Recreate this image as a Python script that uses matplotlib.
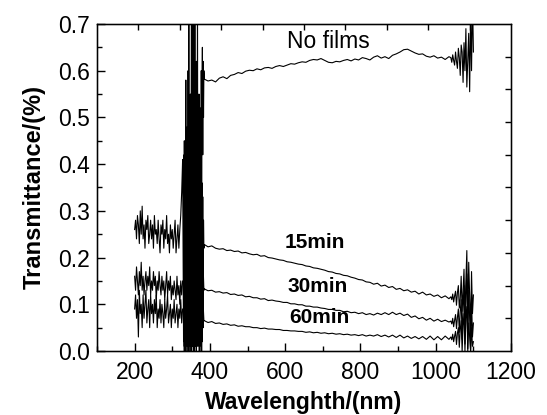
import numpy as np
import matplotlib
matplotlib.use("Agg")
import matplotlib.pyplot as plt

plt.rcParams['font.family'] = ['Liberation Sans', 'DejaVu Sans']

# wavelength grids (nm)
wl_uv = np.arange(200, 330, 2.5)      # 200..327.5
wl_gap = np.arange(330, 385, 1)       # 330..384, dense noisy band
wl_gap2 = np.arange(330, 385, 2)      # 330..384
wl_vis = np.arange(385, 1045, 10)     # 385..1035
wl_nir = np.arange(1040, 1101, 2.5)   # 1040..1100

# No films
nofilm_gap = [0.30, 0.05, 0.45, 0.02, 0.40, 0.10, 0.58, 0.03, 0.35, 0.12,
              0.48, 0.02, 0.60, 0.08, 0.75, 0.05, 0.38, 0.15, 0.55, 0.04,
              0.42, 0.78, 0.06, 0.36, 0.12, 0.80, 0.04, 0.30, 0.66, 0.10,
              0.75, 0.08, 0.40, 0.20, 0.62, 0.05, 0.35, 0.78, 0.12, 0.45,
              0.25, 0.55, 0.10, 0.48, 0.30, 0.52, 0.18, 0.60, 0.35, 0.55,
              0.65, 0.42, 0.62, 0.50, 0.60]
nofilm_vis = [0.582, 0.578, 0.580, 0.576, 0.584, 0.587, 0.583, 0.590, 0.592, 0.596,
              0.594, 0.599, 0.601, 0.600, 0.604, 0.602, 0.606, 0.607, 0.605, 0.609,
              0.611, 0.609, 0.612, 0.615, 0.614, 0.617, 0.619, 0.618, 0.622, 0.624,
              0.623, 0.626, 0.622, 0.618, 0.617, 0.620, 0.619, 0.622, 0.624, 0.621,
              0.625, 0.623, 0.628, 0.626, 0.623, 0.629, 0.632, 0.627, 0.630, 0.626,
              0.633, 0.636, 0.640, 0.645, 0.646, 0.642, 0.638, 0.635, 0.636, 0.631,
              0.629, 0.632, 0.627, 0.629, 0.624, 0.630]
nofilm_nir = [0.628, 0.618, 0.634, 0.622, 0.612, 0.640, 0.620, 0.605, 0.648, 0.628,
              0.590, 0.655, 0.640, 0.575, 0.660, 0.600, 0.690, 0.565, 0.620, 0.680,
              0.555, 0.720, 0.600, 0.760, 0.640]

# 15 min
m15_uv = [0.26, 0.28, 0.24, 0.29, 0.27, 0.23, 0.30, 0.25, 0.31, 0.24,
          0.27, 0.22, 0.28, 0.26, 0.29, 0.23, 0.25, 0.28, 0.24, 0.27,
          0.22, 0.29, 0.25, 0.26, 0.23, 0.28, 0.24, 0.21, 0.27, 0.25,
          0.28, 0.22, 0.26, 0.24, 0.29, 0.23, 0.25, 0.21, 0.27, 0.24,
          0.26, 0.22, 0.25, 0.28, 0.21, 0.24, 0.27, 0.22, 0.26, 0.29,
          0.34, 0.41]
m15_gap = [0.02, 0.42, 0.01, 0.40, 0.03, 0.43, 0.00, 0.38, 0.02, 0.41,
           0.01, 0.44, 0.02, 0.39, 0.00, 0.42, 0.03, 0.40, 0.01, 0.43,
           0.00, 0.41, 0.02, 0.44, 0.01, 0.38, 0.03, 0.42, 0.00, 0.40,
           0.02, 0.43, 0.01, 0.39, 0.00, 0.42, 0.02, 0.41, 0.01, 0.44,
           0.03, 0.40, 0.00, 0.42, 0.02, 0.38, 0.01, 0.41, 0.00, 0.36,
           0.02, 0.33, 0.05, 0.28, 0.22]
m15_vis = [0.228, 0.223, 0.225, 0.220, 0.218, 0.219, 0.215, 0.216, 0.213, 0.214,
           0.210, 0.211, 0.208, 0.206, 0.207, 0.203, 0.204, 0.200, 0.199, 0.197,
           0.195, 0.194, 0.191, 0.190, 0.188, 0.186, 0.185, 0.182, 0.181, 0.178,
           0.177, 0.175, 0.173, 0.170, 0.169, 0.166, 0.165, 0.162, 0.161, 0.158,
           0.156, 0.153, 0.152, 0.148, 0.147, 0.143, 0.145, 0.139, 0.141, 0.136,
           0.138, 0.132, 0.134, 0.129, 0.131, 0.126, 0.128, 0.122, 0.126, 0.120,
           0.122, 0.117, 0.120, 0.114, 0.118, 0.112]
m15_nir = [0.116, 0.110, 0.122, 0.105, 0.118, 0.128, 0.098, 0.125, 0.140, 0.092,
           0.112, 0.160, 0.085, 0.130, 0.175, 0.075, 0.150, 0.215, 0.060, 0.190,
           0.120, 0.045, 0.170, 0.080, 0.120]

# 30 min
m30_uv = [0.16, 0.13, 0.18, 0.15, 0.12, 0.17, 0.14, 0.19, 0.13, 0.16,
          0.12, 0.15, 0.17, 0.13, 0.16, 0.14, 0.18, 0.12, 0.15, 0.13,
          0.17, 0.14, 0.16, 0.11, 0.15, 0.13, 0.17, 0.14, 0.12, 0.16,
          0.13, 0.15, 0.11, 0.14, 0.17, 0.12, 0.15, 0.13, 0.16, 0.11,
          0.14, 0.12, 0.15, 0.13, 0.11, 0.16, 0.12, 0.14, 0.10, 0.15,
          0.12, 0.15]
m30_gap = [0.15, 0.01, 0.30, 0.02, 0.25, 0.00, 0.35, 0.03, 0.20, 0.01,
           0.28, 0.02, 0.32, 0.00, 0.22, 0.04, 0.30, 0.01, 0.26, 0.02,
           0.33, 0.00, 0.24, 0.03, 0.28, 0.05, 0.18, 0.13]
m30_vis = [0.133, 0.129, 0.130, 0.126, 0.127, 0.124, 0.125, 0.121, 0.122, 0.119,
           0.120, 0.116, 0.117, 0.114, 0.114, 0.111, 0.112, 0.108, 0.109, 0.107,
           0.106, 0.104, 0.104, 0.101, 0.101, 0.099, 0.099, 0.096, 0.096, 0.094,
           0.094, 0.092, 0.091, 0.089, 0.089, 0.087, 0.087, 0.084, 0.085, 0.082,
           0.083, 0.080, 0.082, 0.078, 0.080, 0.077, 0.081, 0.078, 0.082, 0.078,
           0.083, 0.078, 0.081, 0.076, 0.079, 0.072, 0.075, 0.069, 0.072, 0.066,
           0.070, 0.064, 0.068, 0.063, 0.066, 0.062]
m30_nir = [0.064, 0.058, 0.070, 0.052, 0.066, 0.078, 0.048, 0.072, 0.090, 0.040,
           0.085, 0.110, 0.025, 0.095, 0.140, 0.015, 0.120, 0.165, 0.005, 0.130,
           0.070, 0.000, 0.110, 0.030, 0.060]

# 60 min
m60_uv = [0.09, 0.12, 0.07, 0.11, 0.03, 0.13, 0.08, 0.10, 0.05, 0.12,
          0.07, 0.10, 0.13, 0.06, 0.09, 0.11, 0.05, 0.12, 0.08, 0.10,
          0.06, 0.11, 0.08, 0.12, 0.05, 0.09, 0.07, 0.11, 0.06, 0.10,
          0.08, 0.05, 0.11, 0.07, 0.09, 0.12, 0.06, 0.08, 0.10, 0.05,
          0.09, 0.07, 0.11, 0.06, 0.08, 0.10, 0.05, 0.09, 0.07, 0.11,
          0.06, 0.09]
m60_gap = [0.09, 0.00, 0.20, 0.02, 0.15, 0.01, 0.25, 0.00, 0.18, 0.03,
           0.22, 0.01, 0.12, 0.00, 0.24, 0.02, 0.16, 0.00, 0.21, 0.03,
           0.14, 0.01, 0.19, 0.00, 0.12, 0.04, 0.10, 0.065]
m60_vis = [0.065, 0.061, 0.063, 0.059, 0.060, 0.057, 0.058, 0.055, 0.056, 0.053,
           0.054, 0.052, 0.052, 0.050, 0.050, 0.048, 0.049, 0.047, 0.047, 0.046,
           0.046, 0.044, 0.044, 0.043, 0.043, 0.042, 0.042, 0.040, 0.041, 0.039,
           0.040, 0.038, 0.039, 0.037, 0.038, 0.036, 0.037, 0.035, 0.036, 0.034,
           0.035, 0.033, 0.035, 0.032, 0.034, 0.032, 0.035, 0.031, 0.034, 0.030,
           0.034, 0.029, 0.034, 0.028, 0.032, 0.027, 0.031, 0.026, 0.031, 0.025,
           0.032, 0.024, 0.031, 0.024, 0.032, 0.025]
m60_nir = [0.030, 0.024, 0.036, 0.020, 0.032, 0.042, 0.014, 0.038, 0.050, 0.008,
           0.046, 0.065, 0.000, 0.055, 0.080, 0.000, 0.070, 0.095, 0.000, 0.060,
           0.030, 0.000, 0.050, 0.010, 0.020]

curves = [
    (np.concatenate([wl_gap, wl_vis, wl_nir]), nofilm_gap + nofilm_vis + nofilm_nir),
    (np.concatenate([wl_uv, wl_gap, wl_vis, wl_nir]), m15_uv + m15_gap + m15_vis + m15_nir),
    (np.concatenate([wl_uv, wl_gap2, wl_vis, wl_nir]), m30_uv + m30_gap + m30_vis + m30_nir),
    (np.concatenate([wl_uv, wl_gap2, wl_vis, wl_nir]), m60_uv + m60_gap + m60_vis + m60_nir),
]

fig = plt.figure(figsize=(5.47, 4.15), dpi=100)
ax = fig.add_axes([0.1773, 0.1542, 0.757, 0.788])

for wl, val in curves:
    ax.plot(wl, val, color="black", lw=0.8)

ax.set_xlim(100, 1200)
ax.set_ylim(0, 0.7)
ax.set_xticks(np.arange(200, 1201, 200))
ax.set_xticks(np.arange(100, 1201, 100), minor=True)
ax.set_yticks(np.arange(0, 0.71, 0.1))
ax.set_yticks(np.arange(0, 0.71, 0.05), minor=True)
ax.set_yticklabels(["%.1f" % v for v in np.arange(0, 0.71, 0.1)])
ax.tick_params(which="both", direction="in", labelsize=16.5, width=1)
ax.tick_params(which="major", length=6)
ax.tick_params(which="minor", length=3.5)
ax.tick_params(axis="x", which="major", pad=7)
ax.tick_params(axis="y", which="major", pad=5)
for s in ax.spines.values():
    s.set_linewidth(1.0)

# top and right axes carry their own ticks (10 divisions, no labels)
ax_top = ax.twiny()
ax_top.set_xlim(0, 10)
ax_top.set_xticks(range(1, 10))
ax_top.tick_params(direction="in", length=4, width=1, labeltop=False)
ax_right = ax.twinx()
ax_right.set_ylim(0, 10)
ax_right.set_yticks(range(1, 10))
ax_right.tick_params(direction="in", length=4, width=1, labelright=False)

ax.set_xlabel("Wavelenghth/(nm)", fontsize=16.5, fontweight="bold", labelpad=5)
ax.set_ylabel("Transmittance/(%)", fontsize=17, fontweight="bold", labelpad=9)

ax.text(716, 0.662, "No films", fontsize=16.5, ha="center", va="center")
ax.text(679, 0.233, "15min", fontsize=15, fontweight="bold", ha="center", va="center")
ax.text(687, 0.139, "30min", fontsize=15, fontweight="bold", ha="center", va="center")
ax.text(692, 0.071, "60min", fontsize=15, fontweight="bold", ha="center", va="center")

fig.savefig("out.png", dpi=100)
